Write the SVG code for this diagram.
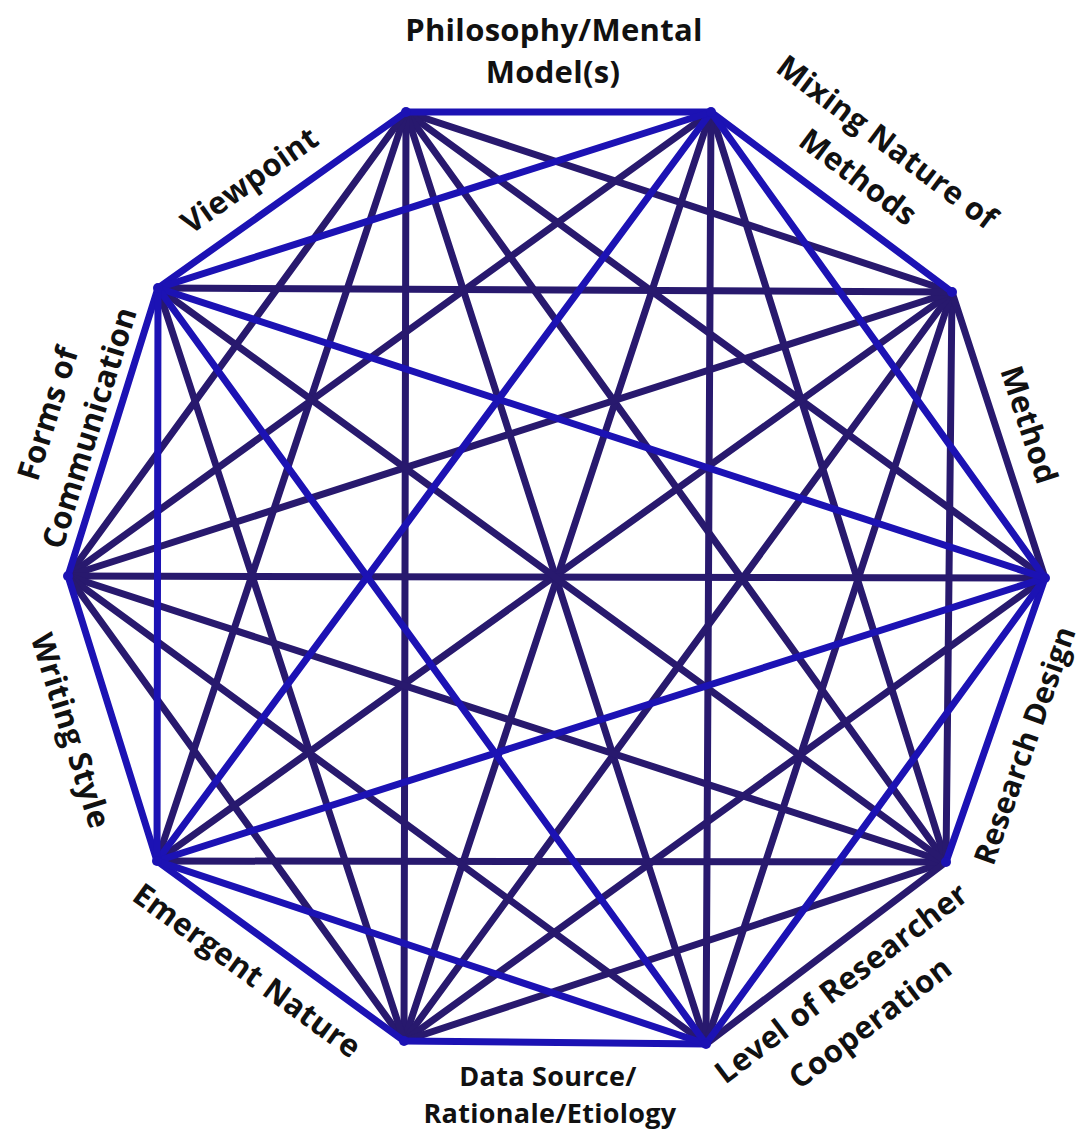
<svg xmlns="http://www.w3.org/2000/svg" width="1088" height="1137" viewBox="0 0 1088 1137">
<style>
.e{stroke-width:7;stroke-linecap:round;fill:none}
.n{stroke:#28196e}
.b{stroke:#1c12b4}
.v{fill:#1c12b4}
.t{font-family:"Open Sans","Liberation Sans",sans-serif;font-weight:700;font-size:31px;fill:#111;text-anchor:middle;letter-spacing:0.3px}
.s{font-size:27px}
</style>
<rect width="1088" height="1137" fill="#fff"/>
<g id="connectors">
<line class="e n" x1="406" y1="112" x2="952" y2="292"/>
<line class="e n" x1="406" y1="112" x2="1045" y2="578"/>
<line class="e n" x1="406" y1="112" x2="946" y2="862"/>
<line class="e n" x1="406" y1="112" x2="706" y2="1044"/>
<line class="e n" x1="406" y1="112" x2="404" y2="1041"/>
<line class="e n" x1="406" y1="112" x2="157" y2="861"/>
<line class="e n" x1="406" y1="112" x2="68" y2="576"/>
<line class="e n" x1="711" y1="112" x2="946" y2="862"/>
<line class="e n" x1="711" y1="112" x2="706" y2="1044"/>
<line class="e n" x1="711" y1="112" x2="404" y2="1041"/>
<line class="e n" x1="711" y1="112" x2="68" y2="576"/>
<line class="e n" x1="952" y1="292" x2="946" y2="862"/>
<line class="e n" x1="952" y1="292" x2="706" y2="1044"/>
<line class="e n" x1="952" y1="292" x2="404" y2="1041"/>
<line class="e n" x1="952" y1="292" x2="157" y2="861"/>
<line class="e n" x1="952" y1="292" x2="68" y2="576"/>
<line class="e n" x1="952" y1="292" x2="158" y2="288"/>
<line class="e n" x1="1045" y1="578" x2="404" y2="1041"/>
<line class="e n" x1="1045" y1="578" x2="68" y2="576"/>
<line class="e n" x1="946" y1="862" x2="404" y2="1041"/>
<line class="e n" x1="946" y1="862" x2="157" y2="861"/>
<line class="e n" x1="946" y1="862" x2="68" y2="576"/>
<line class="e n" x1="946" y1="862" x2="158" y2="288"/>
<line class="e n" x1="706" y1="1044" x2="68" y2="576"/>
<line class="e n" x1="404" y1="1041" x2="68" y2="576"/>
<line class="e n" x1="404" y1="1041" x2="158" y2="288"/>
<line class="e n" x1="952" y1="292" x2="1045" y2="578"/>
<line class="e n" x1="946" y1="862" x2="706" y2="1044"/>
<line class="e b" x1="406" y1="112" x2="711" y2="112"/>
<line class="e b" x1="711" y1="112" x2="952" y2="292"/>
<line class="e b" x1="1045" y1="578" x2="946" y2="862"/>
<line class="e b" x1="706" y1="1044" x2="404" y2="1041"/>
<line class="e b" x1="404" y1="1041" x2="157" y2="861"/>
<line class="e b" x1="157" y1="861" x2="68" y2="576"/>
<line class="e b" x1="68" y1="576" x2="158" y2="288"/>
<line class="e b" x1="158" y1="288" x2="406" y2="112"/>
<line class="e b" x1="711" y1="112" x2="1045" y2="578"/>
<line class="e b" x1="711" y1="112" x2="157" y2="861"/>
<line class="e b" x1="711" y1="112" x2="158" y2="288"/>
<line class="e b" x1="1045" y1="578" x2="706" y2="1044"/>
<line class="e b" x1="1045" y1="578" x2="157" y2="861"/>
<line class="e b" x1="1045" y1="578" x2="158" y2="288"/>
<line class="e b" x1="706" y1="1044" x2="157" y2="861"/>
<line class="e b" x1="706" y1="1044" x2="158" y2="288"/>
<line class="e b" x1="157" y1="861" x2="158" y2="288"/>
</g>
<g id="node-philosophy"><circle class="v" cx="406" cy="112" r="5"/><text class="t" x="554" y="41">Philosophy/Mental</text><text class="t" x="553" y="83">Model(s)</text></g>
<g id="node-mixing"><circle class="v" cx="711" cy="112" r="5"/><g transform="translate(832,202) rotate(37)"><text class="t" x="8" y="-70">Mixing Nature of</text><text class="t" x="6" y="-25">Methods</text></g></g>
<g id="node-method"><circle class="v" cx="952" cy="292" r="5"/><text class="t" transform="translate(998,435) rotate(72)" x="0" y="-22">Method</text></g>
<g id="node-research-design"><circle class="v" cx="1045" cy="578" r="5"/><text class="t" style="font-size:30px" transform="translate(995,720) rotate(-70.6)" x="-14" y="47">Research Design</text></g>
<g id="node-level"><circle class="v" cx="946" cy="862" r="5"/><g transform="translate(826,953) rotate(-37.3)"><text class="t" x="-6" y="44">Level of Researcher</text><text class="t" x="-7" y="93">Cooperation</text></g></g>
<g id="node-data-source"><circle class="v" cx="706" cy="1044" r="5"/><text class="t s" x="548" y="1086">Data Source/</text><text class="t s" x="550" y="1123">Rationale/Etiology</text></g>
<g id="node-emergent"><circle class="v" cx="404" cy="1041" r="5"/><text class="t" transform="translate(280,951) rotate(36)" x="-15" y="46">Emergent Nature</text></g>
<g id="node-writing"><circle class="v" cx="157" cy="861" r="5"/><text class="t" transform="translate(112,718) rotate(72.8)" x="0" y="54">Writing Style</text></g>
<g id="node-forms"><circle class="v" cx="68" cy="576" r="5"/><g transform="translate(113,432) rotate(-72.6)"><text class="t" x="-2" y="-57">Forms of</text><text class="t" x="-3" y="-13">Communication</text></g></g>
<g id="node-viewpoint"><circle class="v" cx="158" cy="288" r="5"/><text class="t" transform="translate(282,200) rotate(-35.2)" x="-15" y="-24">Viewpoint</text></g>
</svg>
